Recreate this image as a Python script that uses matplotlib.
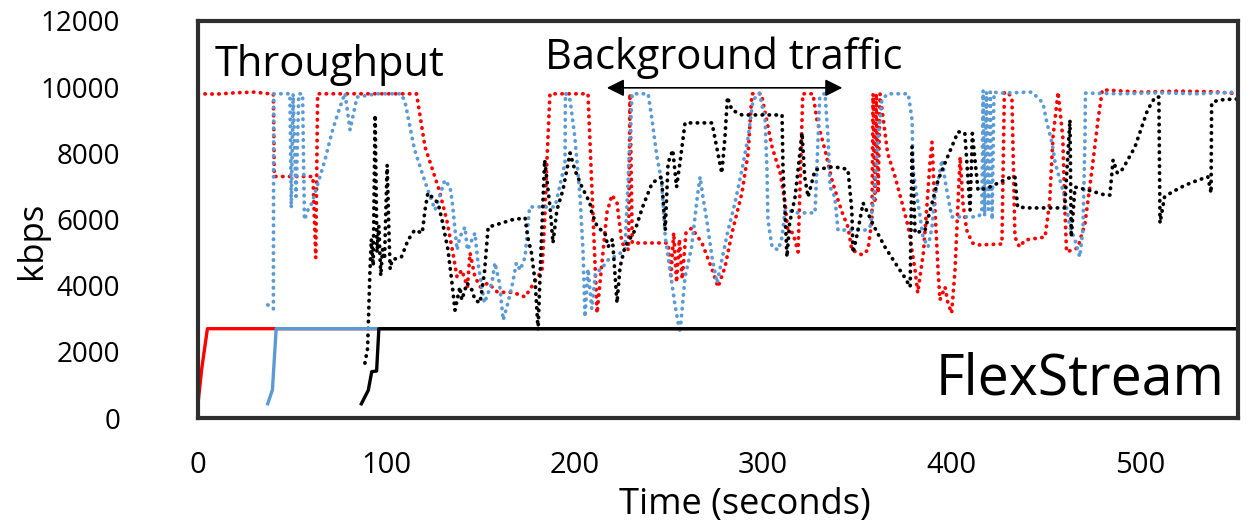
import matplotlib
matplotlib.use("Agg")
import matplotlib.pyplot as plt

# ── Style ─────────────────────────────────────────────────────────────────────
plt.rcParams.update({
    "font.family": ["Open Sans", "DejaVu Sans"],
    "axes.linewidth": 3,
})

RED = "#FF0000"
BLUE = "#5B9BD5"
BLACK = "#000000"
DOT = (0, (0.1, 1.75))

# ── Data: playback bitrate (solid) ────────────────────────────────────────────
red_rate_t = [0, 2, 5, 552]
red_rate = [430, 1500, 2700, 2700]

blue_rate_t = [37, 39.5, 41.5, 552]
blue_rate = [430, 850, 2700, 2700]

black_rate_t = [86.7, 90.4, 92.2, 94.8, 96, 552]
black_rate = [430, 840, 1400, 1420, 2700, 2700]

# ── Data: measured throughput (dotted) ────────────────────────────────────────
red_tput_t = [0, 10, 20, 30, 38, 40, 40.5, 61, 62.5, 63.5, 80, 100, 116, 120.5,
              124, 128, 132, 135, 137.5, 140, 143, 144.4, 147, 150, 154, 159,
              167, 173.6, 177, 182.6, 184, 185, 186.8, 195, 204.4, 207, 211.8,
              217, 219.7, 222.4, 225, 228.5, 229.3, 230.5, 248, 249.5, 251,
              252.5, 254, 255.5, 257, 259, 262, 267.5, 273, 276, 279.7, 283.4,
              288.7, 292, 294, 299, 304.7, 309, 311.6, 313, 315.8, 318.5, 321,
              322, 326.4, 328.5, 332.8, 336.5, 339.7, 342, 345, 347, 352.5,
              355.6, 357.7, 358.3, 359.2, 360, 361, 362, 366, 370, 373.7, 377,
              380.6, 382, 385, 387, 388.5, 389.6, 391, 392.8, 393.8, 396.5, 398,
              400, 401.8, 403.4, 404.5, 406, 408, 411, 414, 426.7, 428, 429.4,
              432, 433.6, 436, 439, 449.6, 452, 453.8, 456.5, 459, 460, 461,
              464, 467, 470.8, 474.5, 477.7, 480, 500, 520, 540, 552]
red_tput = [9800, 9790, 9830, 9850, 9800, 9800, 7300, 7300, 4840, 9800, 9800,
            9800, 9800, 8190, 7590, 6890, 5990, 5080, 4260, 4470, 3960, 4990,
            4260, 3960, 4080, 3800, 3800, 3660, 3960, 4470, 6000, 7500, 9800,
            9800, 9800, 9800, 3170, 6200, 6740, 6500, 5290, 5080, 9800, 5290,
            5290, 5290, 4300, 5600, 4100, 5400, 4200, 5600, 5740, 5290, 4470,
            3960, 4560, 5590, 6800, 8010, 9800, 9800, 8190, 7400, 6500, 5680,
            5590, 5020, 9800, 9800, 9800, 9010, 8100, 7190, 6590, 6200, 5770,
            5080, 4930, 5080, 5990, 9800, 6500, 9800, 6800, 9800, 8010, 7290,
            6500, 5770, 4470, 3780, 4990, 6500, 7710, 8340, 6500, 4470, 3570,
            3960, 3480, 3170, 4470, 6500, 7890, 6500, 5680, 5290, 5230, 5260,
            9850, 9850, 9700, 5470, 5170, 5380, 5470, 6500, 8490, 9850, 8490,
            6500, 5020, 5080, 5140, 5890, 7500, 9010, 9920, 9850, 9880, 9860,
            9800]

blue_tput_t = [37, 40, 40.2, 48.8, 49.5, 50.5, 52, 53.5, 55.5, 56.5, 58.4, 60.5,
               67.4, 71, 74.3, 78, 80.7, 84.4, 95, 108, 110, 112.5, 115, 119,
               122, 125.8, 131, 133.8, 135, 137.5, 139, 141.7, 143, 147, 148.6,
               152, 156, 157.6, 160, 162, 164.5, 167, 169, 171, 173.6, 176,
               189.5, 194.8, 195, 197.5, 200, 202.8, 204.4, 205.4, 207, 209, 211,
               214, 218, 222, 226.6, 230.4, 238.9, 241, 243.6, 246, 248, 250.5,
               253, 255.8, 258.5, 262, 265, 266.5, 268, 270, 272.8, 275.5, 281,
               285, 288.7, 292, 294.6, 298, 301, 302, 302.5, 304.7, 308, 310,
               311.6, 318.5, 327.5, 330, 332.8, 334.4, 335.5, 338, 339.7, 343.4,
               354, 356.7, 359, 361, 363, 366, 377, 379, 379.5, 381.6, 383,
               384.8, 387.5, 389.6, 391, 395, 396.5, 400, 414, 416, 416.7, 417.5,
               418.5, 419.5, 420.5, 421.5, 422.5, 425.7, 442.7, 448.5, 450.6,
               453.3, 455, 457.5, 460, 462.8, 465.5, 468, 469.7, 470.8, 471, 490,
               510, 530, 552]
blue_tput = [3420, 3300, 9800, 9800, 6350, 9800, 6700, 9800, 9800, 5990, 6290,
             6500, 7800, 8620, 9220, 9820, 8710, 9700, 9800, 9800, 9520, 8800,
             8100, 7400, 6890, 6290, 7190, 6980, 6500, 5080, 5470, 5770, 5080,
             5590, 4690, 3480, 4080, 4690, 4080, 2960, 3480, 4080, 4690, 4470,
             4870, 6380, 6380, 7710, 9820, 9610, 8490, 6680, 4990, 3050, 4500,
             3300, 4400, 4500, 4800, 4900, 5080, 9800, 9800, 9010, 7890, 7190,
             5470, 4470, 3480, 2570, 4260, 5170, 6680, 7290, 6680, 5990, 4870,
             4080, 5590, 6500, 7500, 8490, 9610, 9820, 9010, 7500, 5990, 5170,
             5080, 5470, 6290, 6200, 6200, 9700, 9820, 8490, 6980, 6680, 5680,
             5680, 5680, 5770, 6800, 8490, 9610, 9800, 9800, 9010, 7500, 6680,
             6200, 5470, 5170, 5770, 6680, 7800, 7190, 6080, 6080, 6200, 9900,
             6100, 9850, 6300, 9850, 6000, 9850, 9820, 9850, 9520, 8920, 8310,
             7710, 7190, 6680, 5770, 5380, 4870, 5680, 8490, 9820, 9800, 9830,
             9800, 9850]

black_tput_t = [88.6, 90, 91.3, 92, 93, 94, 95, 96, 97, 98, 99, 100.4, 101.5,
                102, 103, 108, 111.5, 115, 119, 120.5, 122, 127.4, 129.5, 132.7,
                134.8, 136.4, 139, 140, 142.8, 145.4, 147, 149.7, 152, 154,
                157.6, 166.7, 173.6, 175, 177, 179, 180.5, 182, 184, 187, 188.4,
                190.5, 193.7, 197.5, 200, 203.8, 208, 209, 212, 216, 217.6, 220,
                222.4, 224, 226.6, 232, 236, 241, 246, 248, 249.5, 252, 254, 256,
                258.5, 272.8, 278, 279.7, 281, 283.4, 288.7, 310, 310.5, 311.6,
                312.6, 314, 316.9, 318.5, 320.6, 322, 323.8, 327.5, 336.5, 341.8,
                345, 347, 347.7, 350, 353, 359, 364.6, 370, 375, 378, 379, 380.6,
                385.9, 389.6, 392.8, 396.5, 400, 403.4, 407, 409.8, 411, 414, 419,
                425.7, 430, 433.6, 435, 440.6, 460, 462.8, 463.5, 465.5, 472.4,
                481.4, 484, 485.7, 488, 490.4, 492, 497.3, 504, 508, 510, 510.6,
                513, 517, 524, 530.8, 536, 537.7, 538, 541.4, 549.4, 552]
black_tput = [1660, 2100, 4500, 5400, 4600, 9160, 5000, 5800, 4300, 5100, 4800,
              7650, 5300, 4500, 4780, 4870, 5380, 5680, 5590, 6290, 6800, 6500,
              5990, 5080, 4080, 3260, 3960, 3570, 4080, 3870, 3570, 3480, 4380,
              5770, 5830, 5990, 6050, 5470, 4990, 4080, 2660, 5000, 7800, 6290,
              5290, 6290, 6890, 8010, 7500, 6980, 6500, 6200, 5770, 5590, 5170,
              5400, 3480, 4560, 5170, 5680, 6380, 7100, 7290, 5680, 7710, 8100,
              6980, 7800, 8920, 8920, 7400, 8490, 9700, 9310, 9160, 9160, 7500,
              6200, 4870, 5890, 6680, 7500, 8620, 7290, 6680, 7500, 7590, 7560,
              7500, 6290, 4990, 5590, 6500, 5770, 5170, 4690, 4260, 3960, 8190,
              5590, 5680, 6500, 7190, 7710, 8190, 8650, 8620, 6290, 8600, 6890,
              6950, 7130, 7250, 7290, 6380, 6350, 6350, 9010, 5470, 6980, 6890,
              6740, 6740, 7800, 7400, 7500, 7650, 8190, 9310, 9700, 9700, 5890,
              6680, 6830, 7040, 7190, 7290, 6800, 9520, 9610, 9640, 9640]

XTICKS = [0, 100, 200, 300, 400, 500]
YTICKS = [0, 2000, 4000, 6000, 8000, 10000, 12000]

# ── Figure ────────────────────────────────────────────────────────────────────
fig = plt.figure(figsize=(12.5, 5.26), dpi=100)
ax = fig.add_axes([0.1584, 0.2053, 0.832, 0.7548])

dot_kw = dict(linewidth=2.7, linestyle=DOT, dash_capstyle="round")
ax.plot(red_tput_t, red_tput, color=RED, **dot_kw)
ax.plot(blue_tput_t, blue_tput, color=BLUE, **dot_kw)
ax.plot(black_tput_t, black_tput, color=BLACK, **dot_kw)

ax.plot(red_rate_t, red_rate, color=RED, linewidth=2.4)
ax.plot(blue_rate_t, blue_rate, color=BLUE, linewidth=2.4)
ax.plot(black_rate_t, black_rate, color=BLACK, linewidth=2.4)

ax.set_xlim(0, 552)
ax.set_ylim(0, 12000)
ax.set_xticks(XTICKS)
ax.set_yticks(YTICKS)
ax.tick_params(axis="both", length=0, labelsize=21)
ax.tick_params(axis="y", pad=56, labelsize=20)
ax.tick_params(axis="x", pad=24)
for s in ax.spines.values():
    s.set_color("#2e2e2e")

ax.set_ylabel("kbps", fontsize=25, va="center")
ax.yaxis.set_label_coords(-0.16, 0.448)
ax.set_xlabel("Time (seconds)", fontsize=26, va="center")
ax.xaxis.set_label_coords(0.526, -0.219)

# annotations
ax.text(9, 10670, "Throughput", fontsize=30, va="center")
ax.text(184, 10880, "Background traffic", fontsize=30, va="center")
ax.annotate("", xy=(342, 9980), xytext=(217, 9980),
            arrowprops=dict(arrowstyle="<|-|>", color="black", lw=1.2,
                            mutation_scale=26, shrinkA=0, shrinkB=0))
ax.text(545, 1150, "FlexStream", fontsize=40, ha="right", va="center")

fig.savefig("out.png", dpi=100)
